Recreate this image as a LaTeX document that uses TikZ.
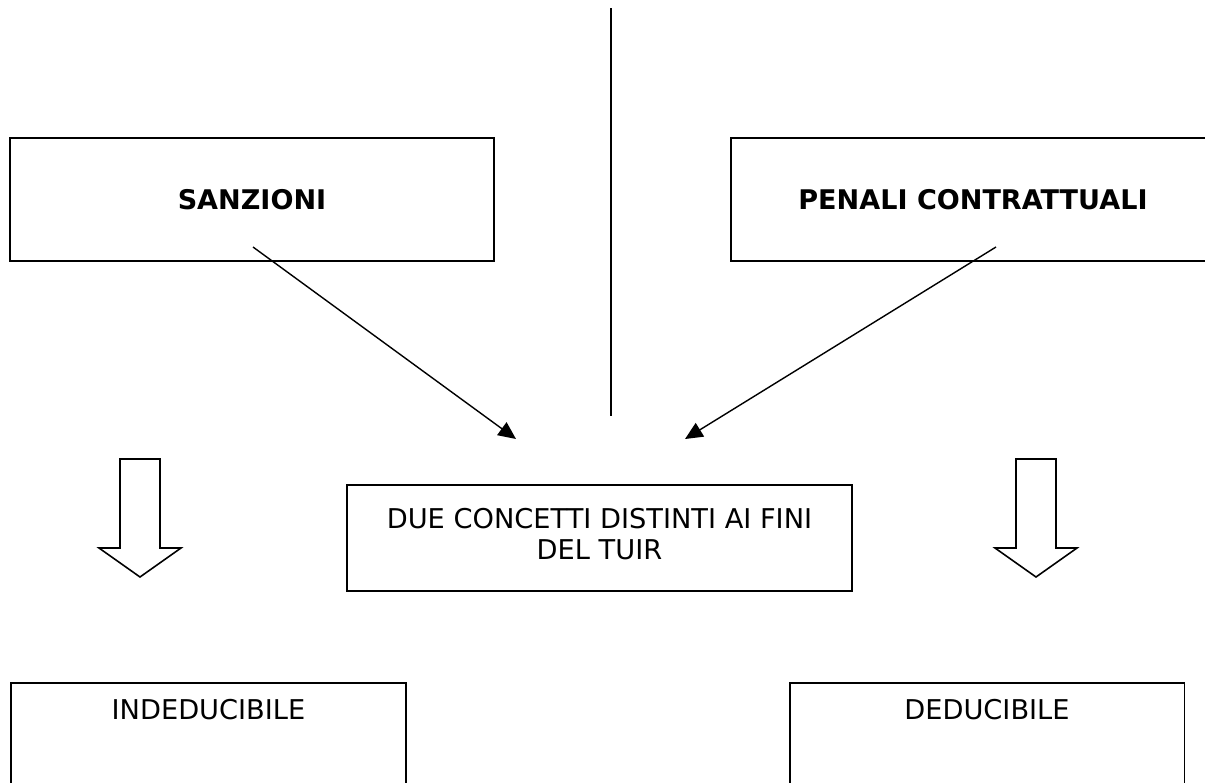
\documentclass[tikz,border=0pt]{standalone}
\usepackage{fontspec}
\setmainfont{DejaVu Sans}
\usepackage{tikz}
\usetikzlibrary{positioning, arrows.meta, calc}

\begin{document}
\begin{tikzpicture}[x=0.02cm, y=-0.02cm,
      mainbox/.style={draw=black, line width=1.1pt, align=center, minimum width=#1, inner sep=2pt, font=\fontsize{15.5}{17.5}\selectfont},
      titlebox/.style={mainbox=9.68cm, minimum height=2.46cm, font=\fontsize{15.4}{17.5}\selectfont\bfseries},
      resultbox/.style={mainbox=7.9cm, anchor=north, inner ysep=9pt, text depth=3cm},
      linkarrow/.style={-{Triangle[length=10pt, width=9pt]}, line width=0.8pt},
      hollowarrow/.style={draw=black, line width=0.9pt, fill=white, line join=miter}
    ]
      \useasboundingbox (0,0) rectangle (1205,782);
      \clip (0,0) rectangle (1205,782);

      \node[titlebox] (sanzioni) at (252,199.5) {SANZIONI};
      \node[titlebox] (penali) at (973,199.5) {PENALI CONTRATTUALI};
      \node[mainbox=10.1cm, minimum height=2.12cm, text depth=5pt] (concetti) at (599.5,538) {DUE CONCETTI DISTINTI AI FINI\\DEL TUIR};
      \node[resultbox] (indeducibile) at (208.5,682) {INDEDUCIBILE};
      \node[resultbox] (deducibile) at (987,682) {DEDUCIBILE};

      \coordinate (divtop) at (611,8);
      \coordinate (divbot) at (611,416);
      \coordinate (sanzfrom) at (253,247);
      \coordinate (sanzto) at (516,439);
      \coordinate (penfrom) at (996,247);
      \coordinate (pento) at (685,439);

      \draw[line width=1pt] (divtop) -- (divbot);
      \draw[linkarrow] (sanzfrom) -- (sanzto);
      \draw[linkarrow] (penfrom) -- (pento);

      \foreach \ax in {140,1036}
        \draw[hollowarrow] (\ax-20,459) -- (\ax+20,459) -- (\ax+20,548) -- (\ax+41,548)
          -- (\ax,577) -- (\ax-41,548) -- (\ax-20,548) -- cycle;
    \end{tikzpicture}
\end{document}
